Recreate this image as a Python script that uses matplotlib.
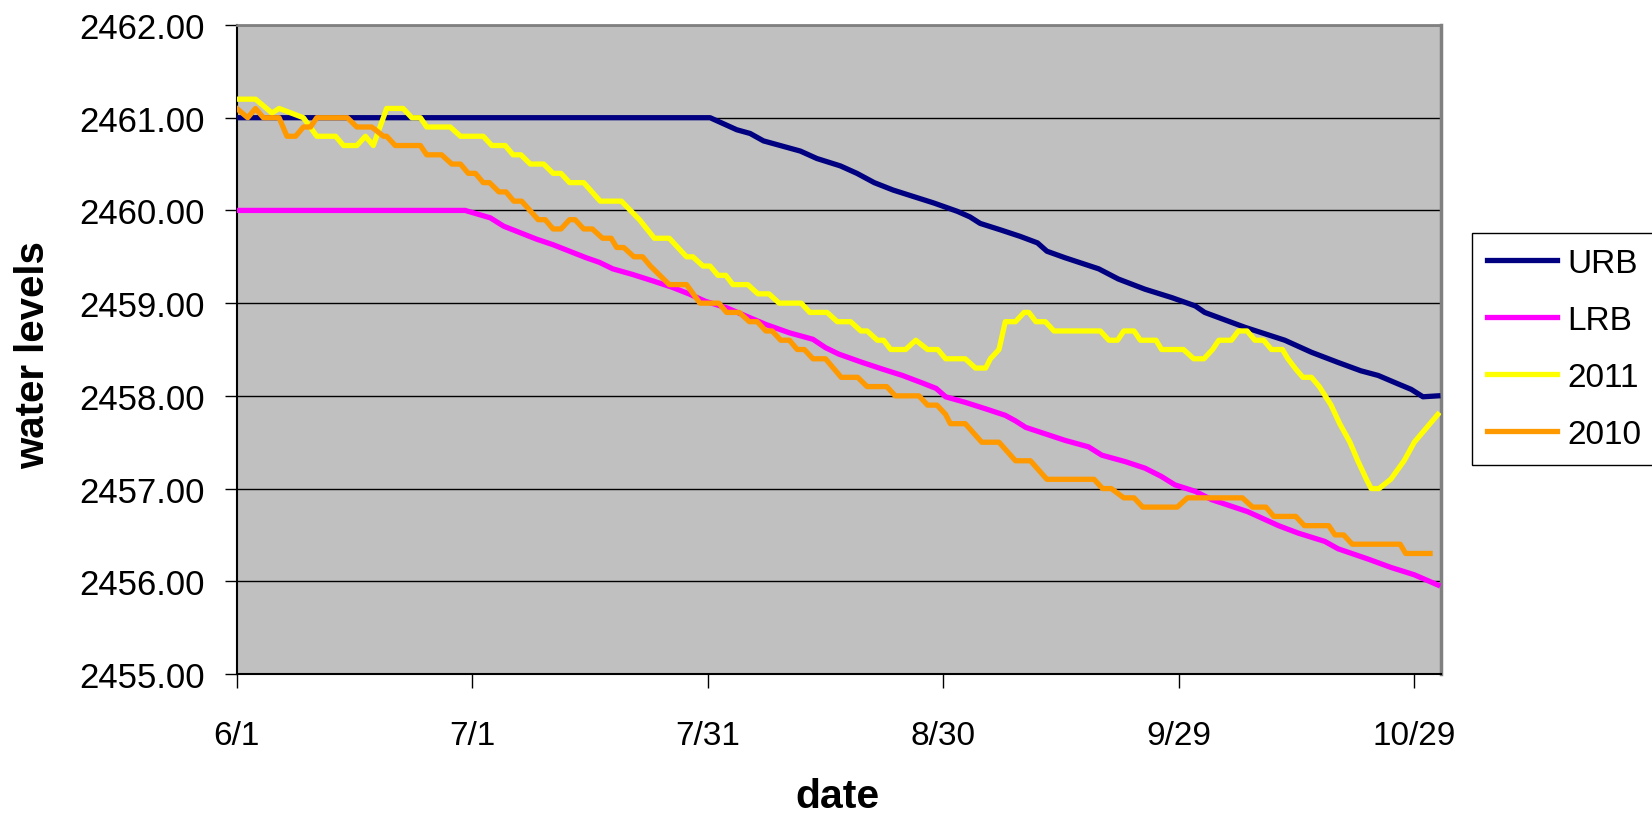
import matplotlib
matplotlib.use("Agg")
import matplotlib.pyplot as plt

plt.rcParams['font.family'] = ['Liberation Sans', 'DejaVu Sans']

tick_days = [0, 30, 60, 90, 120, 150]
tick_labels = ['6/1', '7/1', '7/31', '8/30', '9/29', '10/29']

urb_days = [0, 60.3, 63.7, 65.4, 67.1, 71.8, 73.9, 76.9, 79, 81.2, 83.6, 86.2, 88.8,
            91.8, 93.4, 94.7, 97.3, 99.8, 102, 103.2, 105.5, 109.8, 112.3, 115.7,
            119.1, 122.1, 123.3, 128.4, 133.5, 136.9, 140.3, 143.2, 145.4, 147.9,
            149.6, 151.1, 153]
urb_vals = [2461, 2461, 2460.87, 2460.83, 2460.75, 2460.64, 2460.56, 2460.48, 2460.40,
            2460.30, 2460.22, 2460.15, 2460.08, 2459.99, 2459.93, 2459.86, 2459.79,
            2459.72, 2459.65, 2459.56, 2459.49, 2459.37, 2459.26, 2459.15, 2459.06,
            2458.97, 2458.90, 2458.74, 2458.60, 2458.47, 2458.36, 2458.27, 2458.22,
            2458.13, 2458.07, 2457.99, 2458.0]

lrb_days = [0, 29.1, 32.3, 34, 36.1, 38.2, 40.3, 42.4, 44.5, 46.2, 47.9, 50.4, 53,
            55.5, 57.6, 59.7, 62.4, 64.9, 67.4, 70.4, 73.4, 75, 76.7, 79.7, 82.2,
            84.8, 87.3, 89.1, 90.3, 92.8, 95.4, 97.9, 99.2, 100.5, 103, 105.5, 108.5,
            110.2, 113.2, 115.7, 117.8, 119.5, 122.1, 124.2, 128.8, 132.7, 135.2,
            138.6, 140.3, 144.1, 147, 150, 153]
lrb_vals = [2460, 2460, 2459.92, 2459.83, 2459.76, 2459.69, 2459.63, 2459.56, 2459.49,
            2459.44, 2459.37, 2459.31, 2459.24, 2459.17, 2459.10, 2459.02, 2458.95,
            2458.86, 2458.77, 2458.68, 2458.61, 2458.52, 2458.45, 2458.36, 2458.29,
            2458.22, 2458.14, 2458.08, 2457.99, 2457.93, 2457.86, 2457.79, 2457.73,
            2457.66, 2457.59, 2457.52, 2457.45, 2457.36, 2457.29, 2457.22, 2457.13,
            2457.04, 2456.97, 2456.88, 2456.75, 2456.60, 2456.52, 2456.43, 2456.35,
            2456.24, 2456.15, 2456.07, 2455.96]

y2011_days = [0, 2.4, 4.5, 5.4, 8.5, 10.2, 12.6, 13.6, 15.3, 16.4, 17.4, 19.1, 21.2,
              22.3, 23.4, 24.2, 27.2, 28.5, 31.4, 32.5, 34.2, 35.2, 36.2, 37.4, 39.1,
              40.3, 41.3, 42.4, 44.2, 46.3, 49, 51.3, 53.2, 55.1, 57.3, 58.1, 59.4,
              60.3, 61.3, 62.3, 63.2, 65.1, 66.4, 67.8, 69.1, 71.9, 73, 75.2, 76.5,
              78.2, 79.5, 80.3, 81.6, 82.4, 83.3, 85.2, 86.5, 88, 89.3, 90.3, 92.8,
              94.1, 95.4, 96, 97.1, 97.9, 99.2, 100.3, 100.9, 101.8, 103, 104.1, 110,
              111.1, 112.2, 113, 114.3, 115.1, 117.1, 117.8, 120.6, 121.9, 123.2, 124.3,
              125.1, 126.7, 127.6, 128.7, 129.7, 130.8, 131.8, 133.2, 133.9, 134.8,
              135.8, 136.9, 137.9, 139.4, 140.5, 141.8, 142.8, 143.9, 144.5, 145.5,
              147, 148.7, 150, 151.5, 153]
y2011_vals = [2461.2, 2461.2, 2461.05, 2461.1, 2461.0, 2460.8, 2460.8, 2460.7, 2460.7,
              2460.8, 2460.7, 2461.1, 2461.1, 2461.0, 2461.0, 2460.9, 2460.9, 2460.8,
              2460.8, 2460.7, 2460.7, 2460.6, 2460.6, 2460.5, 2460.5, 2460.4, 2460.4,
              2460.3, 2460.3, 2460.1, 2460.1, 2459.9, 2459.7, 2459.7, 2459.5, 2459.5,
              2459.4, 2459.4, 2459.3, 2459.3, 2459.2, 2459.2, 2459.1, 2459.1, 2459.0,
              2459.0, 2458.9, 2458.9, 2458.8, 2458.8, 2458.7, 2458.7, 2458.6, 2458.6,
              2458.5, 2458.5, 2458.6, 2458.5, 2458.5, 2458.4, 2458.4, 2458.3, 2458.3,
              2458.4, 2458.5, 2458.8, 2458.8, 2458.9, 2458.9, 2458.8, 2458.8, 2458.7,
              2458.7, 2458.6, 2458.6, 2458.7, 2458.7, 2458.6, 2458.6, 2458.5, 2458.5,
              2458.4, 2458.4, 2458.5, 2458.6, 2458.6, 2458.7, 2458.7, 2458.6, 2458.6,
              2458.5, 2458.5, 2458.4, 2458.3, 2458.2, 2458.2, 2458.1, 2457.9, 2457.7,
              2457.5, 2457.3, 2457.1, 2457.0, 2457.0, 2457.1, 2457.3, 2457.5, 2457.65,
              2457.8]

y2010_days = [0, 1.4, 2.4, 3.4, 5.4, 6.4, 7.5, 8.5, 9.4, 10.2, 14.1, 15.3, 17.2, 18.7,
              19.1, 20.2, 23.4, 24.2, 26.1, 27.4, 28.5, 29.5, 30.4, 31.4, 32.2, 33.4,
              34.3, 35.3, 36.3, 38.4, 39.3, 40.3, 41.3, 42.4, 43.1, 44.2, 45.3, 46.6,
              47.7, 48.4, 49.3, 50.6, 51.7, 52.7, 53.9, 55.1, 57.3, 59.0, 61.4, 62.4,
              64.0, 65.3, 66.3, 67.4, 68.2, 69.3, 70.4, 71.4, 72.3, 73.4, 75.0, 77.0,
              79.1, 80.3, 82.8, 83.9, 86.9, 88.0, 89.2, 90.3, 90.9, 92.8, 94.9, 97.1,
              99.2, 101.1, 103.2, 109.2, 110.3, 111.4, 113.0, 114.3, 115.4, 119.8,
              121.1, 128.1, 129.4, 131.1, 132.1, 134.9, 136.0, 139.1, 139.9, 141.0,
              142.1, 148.2, 148.9, 152]
y2010_vals = [2461.1, 2461.0, 2461.1, 2461.0, 2461.0, 2460.8, 2460.8, 2460.9, 2460.9,
              2461.0, 2461.0, 2460.9, 2460.9, 2460.8, 2460.8, 2460.7, 2460.7, 2460.6,
              2460.6, 2460.5, 2460.5, 2460.4, 2460.4, 2460.3, 2460.3, 2460.2, 2460.2,
              2460.1, 2460.1, 2459.9, 2459.9, 2459.8, 2459.8, 2459.9, 2459.9, 2459.8,
              2459.8, 2459.7, 2459.7, 2459.6, 2459.6, 2459.5, 2459.5, 2459.4, 2459.3,
              2459.2, 2459.2, 2459.0, 2459.0, 2458.9, 2458.9, 2458.8, 2458.8, 2458.7,
              2458.7, 2458.6, 2458.6, 2458.5, 2458.5, 2458.4, 2458.4, 2458.2, 2458.2,
              2458.1, 2458.1, 2458.0, 2458.0, 2457.9, 2457.9, 2457.8, 2457.7, 2457.7,
              2457.5, 2457.5, 2457.3, 2457.3, 2457.1, 2457.1, 2457.0, 2457.0, 2456.9,
              2456.9, 2456.8, 2456.8, 2456.9, 2456.9, 2456.8, 2456.8, 2456.7, 2456.7,
              2456.6, 2456.6, 2456.5, 2456.5, 2456.4, 2456.4, 2456.3, 2456.3]

W, H = 1652, 820
fig = plt.figure(figsize=(W / 100, H / 100), dpi=100)
# plot area placed where the excel plot area sits
ax = fig.add_axes([236.7 / W, 1 - 675 / H, (1441 - 236.7) / W, (675 - 26) / H])
ax.set_facecolor('#C0C0C0')

lw = 3.8
ax.plot(urb_days, urb_vals, color='#000080', lw=lw, label='URB', solid_joinstyle='round', zorder=3)
ax.plot(lrb_days, lrb_vals, color='#FF00FF', lw=lw, label='LRB', solid_joinstyle='round', zorder=3)
ax.plot(y2011_days, y2011_vals, color='#FFFF00', lw=lw, label='2011', solid_joinstyle='round', zorder=3)
ax.plot(y2010_days, y2010_vals, color='#FF9900', lw=lw, label='2010', solid_joinstyle='round', zorder=3)

ax.set_xlim(0, 153.4)
ax.set_ylim(2455, 2462)
ax.set_xticks(tick_days)
ax.set_xticklabels(tick_labels)
ax.set_yticks(range(2455, 2463))
ax.set_yticklabels(['%.2f' % v for v in range(2455, 2463)])
ax.tick_params(axis='x', direction='out', length=10, width=1, pad=23, labelsize=24)
ax.tick_params(axis='y', direction='out', length=9, width=1, pad=14, labelsize=25)

ax.yaxis.grid(True, color='black', lw=1)
ax.set_axisbelow(True)
ax.spines['top'].set_color('#808080')
ax.spines['right'].set_color('#808080')
ax.spines['top'].set_linewidth(2)
ax.spines['right'].set_linewidth(2.5)
ax.spines['left'].set_linewidth(1.5)
ax.spines['bottom'].set_linewidth(1.5)

fig.text(33 / W, 1 - 355 / H, 'water levels', rotation=90, ha='center', va='center',
         fontsize=29, fontweight='bold')
fig.text(837 / W, 1 - 797 / H, 'date', ha='center', va='center',
         fontsize=29.5, fontweight='bold')

leg = ax.legend(loc='upper left', bbox_to_anchor=(1472 / W, 1 - 234 / H),
                bbox_transform=fig.transFigure, borderaxespad=0, fontsize=24,
                frameon=True, fancybox=False, edgecolor='black', framealpha=1,
                handlelength=2.1, handletextpad=0.3, labelspacing=0.78, borderpad=0.45)
leg.get_frame().set_linewidth(1)

fig.savefig('out.png', dpi=100)
